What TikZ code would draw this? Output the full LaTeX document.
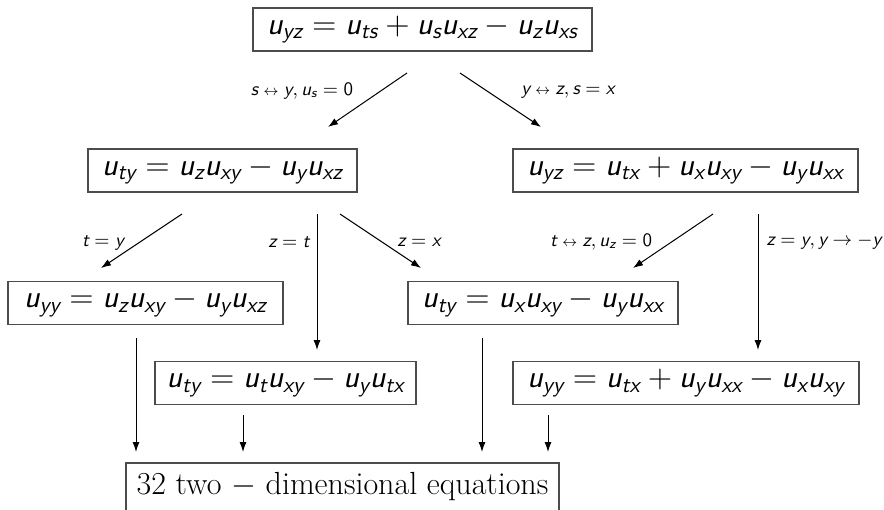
\documentclass[tikz,border=0pt]{standalone}
\usepackage{fix-cm}
\usetikzlibrary{arrows.meta}
\DeclareSymbolFont{sfsl}{TU}{lmss}{m}{sl}
\DeclareSymbolFont{sfup}{TU}{lmss}{m}{n}
\DeclareMathSymbol{s}{\mathalpha}{sfsl}{`s}
\DeclareMathSymbol{t}{\mathalpha}{sfsl}{`t}
\DeclareMathSymbol{u}{\mathalpha}{sfsl}{`u}
\DeclareMathSymbol{x}{\mathalpha}{sfsl}{`x}
\DeclareMathSymbol{y}{\mathalpha}{sfsl}{`y}
\DeclareMathSymbol{z}{\mathalpha}{sfsl}{`z}
\DeclareMathSymbol{0}{\mathalpha}{sfup}{`0}
\newcommand{\shortlra}{\mathrel{\scalebox{0.76}{$\leftrightarrow$}}}
\tikzset{
  eqbox/.style={draw=black!70, line width=0.7pt, inner xsep=2pt, inner ysep=0pt,
    minimum height=21.5pt, font=\fontsize{16}{19}\selectfont},
  lab/.style={font=\fontsize{9.5}{11}\selectfont, inner sep=0pt},
  arr/.style={-{Latex[length=5pt,width=3.5pt]}, line width=0.5pt}
}
\begin{document}
\begin{tikzpicture}[x=0.5pt,y=-0.5pt]
\useasboundingbox (0,0) rectangle (884,509);
\node[eqbox, minimum width=169.5pt] (top) at (422.5,29.5) {$u_{yz}=u_{ts}+u_su_{xz}-u_zu_{xs}$};
\node[eqbox, minimum width=134.5pt] (L2a) at (222.5,170.5) {$u_{ty}=u_zu_{xy}-u_yu_{xz}$};
\node[eqbox, minimum width=172.5pt] (L2b) at (685.5,170.5) {$u_{yz}=u_{tx}+u_xu_{xy}-u_yu_{xx}$};
\node[eqbox, minimum width=137.5pt] (L3a) at (145.5,303) {$u_{yy}=u_zu_{xy}-u_yu_{xz}$};
\node[eqbox, minimum width=135pt] (L3b) at (543,303) {$u_{ty}=u_xu_{xy}-u_yu_{xx}$};
\node[eqbox, minimum width=130.5pt] (L4a) at (285.5,383) {$u_{ty}=u_tu_{xy}-u_yu_{tx}$};
\node[eqbox, minimum width=173pt] (L4b) at (686,383) {$u_{yy}=u_{tx}+u_yu_{xx}-u_xu_{xy}$};
\node[eqbox, minimum width=216.5pt, minimum height=24pt] (bot) at (342.5,487) {32 two $-$ dimensional equations};

\coordinate (a1s) at (407,73);  \coordinate (a1e) at (328,127);
\coordinate (a2s) at (460,73);  \coordinate (a2e) at (541,127);
\coordinate (a3s) at (182,214); \coordinate (a3e) at (101,268);
\coordinate (a4s) at (317,214); \coordinate (a4e) at (317,350);
\coordinate (a5s) at (340,214); \coordinate (a5e) at (421,268);
\coordinate (a6s) at (713,214); \coordinate (a6e) at (633,268);
\coordinate (a7s) at (758,214); \coordinate (a7e) at (758,350);
\coordinate (a8s) at (136,338); \coordinate (a8e) at (136,452);
\coordinate (a9s) at (243,415); \coordinate (a9e) at (243,452);
\coordinate (a10s) at (482,338); \coordinate (a10e) at (482,452);
\coordinate (a11s) at (548,415); \coordinate (a11e) at (548,452);
\foreach \i in {1,...,11} {\draw[arr] (a\i s) -- (a\i e);}

\node[lab] (l1) at (302,91) {$s\shortlra y, u_s=0$};
\node[lab] (l2) at (568,92) {$y\shortlra z, s=x$};
\node[lab] (l3) at (103,243) {$t=y$};
\node[lab] (l4) at (289,242) {$z=t$};
\node[lab] (l5) at (419,242) {$z=x$};
\node[lab] (l6) at (601,242) {$t\shortlra z, u_z=0$};
\node[lab] (l7) at (824,242) {$z=y, y\rightarrow -y$};
\end{tikzpicture}
\end{document}
